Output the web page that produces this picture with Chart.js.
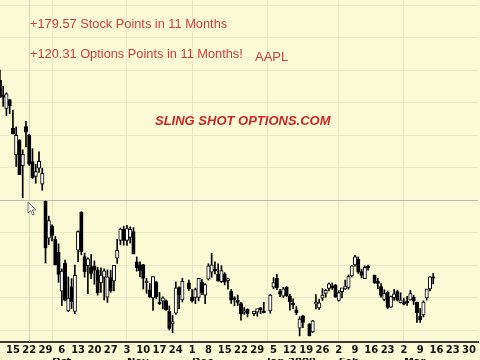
<!DOCTYPE html>
<html><head><meta charset="utf-8">
<script src="https://cdn.jsdelivr.net/npm/chart.js@4.4.0/dist/chart.umd.min.js"></script>
<style>
html,body{margin:0;padding:0;background:#fafad4;overflow:hidden;width:480px;height:360px}
#wrap{position:relative;width:480px;height:366px}
.note{position:absolute;font-family:"Liberation Sans",Arial,sans-serif;font-size:12.8px;line-height:13px;color:#d43c3c;white-space:nowrap}
.logo{font-size:13px;font-weight:bold;font-style:italic;color:#cf2525}
</style></head><body>
<div id="wrap"><canvas id="c"></canvas>
<div class="note" style="left:30px;top:17px">+179.57 Stock Points in 11 Months</div>
<div class="note" style="left:30px;top:47px">+120.31 Options Points in 11 Months!</div>
<div class="note" style="left:255px;top:50px;font-size:13px">AAPL</div>
<div class="note logo" style="left:155px;top:114px">SLING SHOT OPTIONS.COM</div>
</div>
<script>
// ---- data (AAPL daily) ----
const dates = [
 '2008-09-09','2008-09-10','2008-09-11','2008-09-12','2008-09-15','2008-09-16','2008-09-17','2008-09-18','2008-09-19',
 '2008-09-22','2008-09-23','2008-09-24','2008-09-25','2008-09-26','2008-09-29','2008-09-30',
 '2008-10-01','2008-10-02','2008-10-03','2008-10-06','2008-10-07','2008-10-08','2008-10-09','2008-10-10',
 '2008-10-13','2008-10-14','2008-10-15','2008-10-16','2008-10-17','2008-10-20','2008-10-21','2008-10-22','2008-10-23','2008-10-24',
 '2008-10-27','2008-10-28','2008-10-29','2008-10-30','2008-10-31',
 '2008-11-03','2008-11-04','2008-11-05','2008-11-06','2008-11-07','2008-11-10','2008-11-11','2008-11-12','2008-11-13','2008-11-14',
 '2008-11-17','2008-11-18','2008-11-19','2008-11-20','2008-11-21','2008-11-24','2008-11-25','2008-11-26','2008-11-28',
 '2008-12-01','2008-12-02','2008-12-03','2008-12-04','2008-12-05','2008-12-08','2008-12-09','2008-12-10','2008-12-11','2008-12-12',
 '2008-12-15','2008-12-16','2008-12-17','2008-12-18','2008-12-19','2008-12-22','2008-12-23','2008-12-24','2008-12-26',
 '2008-12-29','2008-12-30','2008-12-31','2009-01-02',
 '2009-01-05','2009-01-06','2009-01-07','2009-01-08','2009-01-09','2009-01-12','2009-01-13','2009-01-14','2009-01-15','2009-01-16',
 '2009-01-20','2009-01-21','2009-01-22','2009-01-23','2009-01-26','2009-01-27','2009-01-28','2009-01-29','2009-01-30',
 '2009-02-02','2009-02-03','2009-02-04','2009-02-05','2009-02-06','2009-02-09','2009-02-10','2009-02-11','2009-02-12','2009-02-13',
 '2009-02-17','2009-02-18','2009-02-19','2009-02-20','2009-02-23','2009-02-24','2009-02-25','2009-02-26','2009-02-27',
 '2009-03-02','2009-03-03','2009-03-04','2009-03-05','2009-03-06','2009-03-09','2009-03-10','2009-03-11','2009-03-12','2009-03-13'
];
const opens = [
 156.86,152.32,148.18,150.91,142.03,133.86,138.49,130.57,142.60,
 139.94,131.85,127.27,129.80,124.91,119.62,108.25,
 111.92,108.01,104.00,91.96,100.48,85.91,93.35,85.70,
 104.55,116.26,102.61,99.78,99.48,99.78,98.46,94.50,96.26,90.10,
 96.13,95.07,102.13,107.55,111.00,
 107.60,108.50,110.29,101.00,100.02,100.13,94.55,92.40,89.87,94.76,
 88.56,88.89,88.98,85.84,81.90,85.21,93.04,89.26,94.52,
 90.12,90.02,89.99,94.76,90.72,95.63,97.83,98.27,97.20,94.88,
 97.13,95.29,91.95,89.44,89.13,88.15,85.45,86.38,85.04,
 85.50,86.85,85.89,85.88,
 93.17,95.95,91.81,90.43,93.21,90.46,88.22,86.24,80.58,84.36,
 81.93,79.39,88.03,86.82,89.76,91.26,92.80,93.58,93.89,
 89.10,91.80,92.65,93.11,96.64,100.00,101.80,98.00,95.83,99.25,
 96.87,95.05,93.37,89.40,91.65,87.06,89.97,91.86,88.38,
 88.12,88.67,89.26,90.08,88.50,84.32,84.68,89.84,92.67,96.30
];
const highs = [
 159.96,154.99,152.99,150.91,147.69,142.50,138.51,135.43,144.20,
 140.25,135.80,130.95,134.79,129.80,119.68,115.00,
 112.36,108.79,106.50,98.78,101.50,96.33,95.80,100.00,
 110.53,116.40,103.66,102.24,103.19,101.28,99.30,99.10,98.80,98.50,
 98.43,99.50,107.90,111.35,111.92,
 112.20,111.75,111.50,102.48,100.98,100.22,95.86,94.33,96.44,95.00,
 91.55,90.22,89.31,87.41,84.53,94.79,93.27,95.94,95.35,
 92.42,92.87,95.76,95.50,94.28,100.38,103.60,100.95,100.35,99.79,
 97.65,95.95,92.51,90.26,90.77,88.55,86.91,86.54,85.85,
 86.05,87.00,88.56,91.04,
 96.18,97.17,92.50,93.15,93.40,90.99,89.62,87.25,84.12,84.48,
 81.94,82.98,90.93,89.50,92.77,92.48,94.50,94.50,94.00,
 92.10,92.74,95.37,96.96,99.88,103.00,102.51,98.73,99.75,100.00,
 96.90,95.85,94.25,92.40,92.00,90.47,92.48,92.24,91.45,
 89.84,90.40,92.20,90.65,88.58,86.61,88.97,92.18,96.44,97.39
];
const lows = [
 151.52,148.80,146.00,146.50,140.36,130.30,127.83,120.68,136.31,
 130.66,126.66,125.15,128.52,123.00,100.59,106.30,
 107.39,100.00,94.65,87.54,88.95,85.68,86.60,85.00,
 101.02,103.14,96.25,91.18,95.83,94.07,90.72,91.60,89.29,88.50,
 91.60,92.00,100.50,106.26,106.11,
 106.00,106.76,103.72,98.09,96.36,92.60,91.29,90.09,86.06,89.63,
 87.84,86.49,86.00,80.00,79.14,84.84,86.53,88.64,92.16,
 88.58,88.10,88.94,90.85,88.10,95.39,96.20,97.28,95.07,94.55,
 93.86,92.58,88.16,87.50,87.55,83.00,84.80,84.00,84.38,
 84.26,85.00,85.26,85.16,
 92.71,92.39,90.26,90.04,90.24,86.07,86.55,84.73,78.20,80.71,
 78.20,79.22,86.52,86.31,89.04,90.08,92.00,92.50,90.06,
 88.86,89.86,92.50,92.60,96.30,99.62,97.42,96.00,95.82,98.40,
 94.25,92.72,90.11,89.00,86.51,86.84,89.11,88.94,88.33,
 87.75,87.59,89.21,87.84,82.33,82.33,84.04,89.21,92.05,94.18
];
const closes = [
 151.68,151.61,152.65,148.94,140.36,139.88,127.83,134.09,140.91,
 131.05,126.84,128.71,131.93,128.24,105.26,113.66,
 109.12,100.10,97.07,98.14,89.16,89.79,88.74,96.80,
 110.26,104.08,97.95,101.89,97.40,98.44,91.49,96.87,98.23,96.38,
 92.09,99.91,104.55,111.04,107.59,
 111.20,110.99,103.30,99.10,98.24,95.88,94.77,90.12,96.44,90.24,
 88.14,89.91,86.29,80.49,82.58,92.95,90.80,95.00,92.67,
 88.93,92.47,95.90,91.41,94.00,99.72,100.06,98.21,95.00,98.27,
 94.75,95.43,89.16,89.43,88.51,85.04,85.81,85.04,85.81,
 86.61,86.29,85.35,90.75,
 94.58,93.02,91.01,92.70,90.58,88.66,87.71,85.33,83.38,82.33,
 78.20,82.83,88.36,88.36,90.73,92.18,94.20,93.00,90.13,
 91.51,92.98,93.55,96.46,99.72,102.51,97.83,96.82,99.27,99.16,
 94.53,94.37,90.64,91.20,86.95,90.25,91.16,89.19,89.31,
 87.94,88.37,91.17,88.84,85.30,83.11,88.63,92.68,96.35,95.93
];
// weekly tick labels (Mondays from 2008-09-15) and month labels
const weekLabels = ['15','22','29','6','13','20','27','3','10','17','24','1','8','15','22','29',
  '5','12','19','26','2','9','16','23','2','9','16','23','30'];
const monthStarts = ['2008-10-01','2008-11-03','2008-12-01','2009-01-01','2009-02-02','2009-03-02'];
const monthLabels = ['Oct','Nov','Dec','Jan 2009','Feb','Mar'];

// ---- helpers: weekday slot index counted from Monday 2008-09-15 ----
const BASE = Date.UTC(2008, 8, 15);
function slotOf(s){
  const [y,m,d] = s.split('-').map(Number);
  const diff = Math.round((Date.UTC(y,m-1,d) - BASE)/86400000);
  const w = Math.floor(diff/7);
  return w*5 + (diff - w*7);
}
const slots = dates.map(slotOf);
const weekTicks = weekLabels.map((_, i) => i*5);
const monthTicks = monthStarts.map(slotOf);

const X_MIN = -3.97, X_MAX = 142.77;
const Y_MIN = 76.31, Y_MAX = 181.54;
const yGrid = [80,90,100,110,120,130,140,150,160,170,180];
const CROSS_DATE = '2008-09-22', CROSS_PRICE = 120;

const GRID = '#e9e9c9';
const tickFont = {family:'"DejaVu Sans", Verdana, sans-serif', size:10, weight:'bold', lineHeight:0.8};

const crosshair = {
  id:'crosshair',
  beforeDatasetsDraw(chart){
    const {ctx, chartArea:a, scales:{x,y}} = chart;
    const cx = Math.round(x.getPixelForValue(slotOf(CROSS_DATE))) + 0.5;
    const cy = Math.round(y.getPixelForValue(CROSS_PRICE)) + 0.5;
    ctx.save();
    ctx.lineWidth = 1;
    ctx.strokeStyle = '#d3d3bf';
    ctx.beginPath(); ctx.moveTo(cx, a.top); ctx.lineTo(cx, a.bottom); ctx.stroke();
    ctx.strokeStyle = '#bdbdac';
    ctx.beginPath(); ctx.moveTo(a.left, cy); ctx.lineTo(a.right, cy); ctx.stroke();
    ctx.restore();
  },
  afterDraw(chart){
    // mouse pointer resting at the crosshair
    const {ctx, scales:{x,y}} = chart;
    const px = Math.round(x.getPixelForValue(slotOf(CROSS_DATE))) - 1;
    const py = Math.round(y.getPixelForValue(CROSS_PRICE)) + 2;
    ctx.save();
    ctx.translate(px, py);
    ctx.beginPath();
    ctx.moveTo(0,0); ctx.lineTo(0,11); ctx.lineTo(2.6,8.6); ctx.lineTo(4.6,13); ctx.lineTo(6.2,12.3);
    ctx.lineTo(4.3,8); ctx.lineTo(7.8,8); ctx.closePath();
    ctx.fillStyle = '#f4f4f0'; ctx.fill();
    ctx.strokeStyle = '#6a6a6a'; ctx.lineWidth = 0.9; ctx.stroke();
    ctx.restore();
  }
};

new Chart(document.getElementById('c'), {
  type:'bar',
  data:{
    datasets:[
      {
        label:'body', order:0, grouped:false,
        data: slots.map((s,i)=>({x:s, y:[opens[i], closes[i]]})),
        backgroundColor: closes.map((c,i)=> c >= opens[i] ? '#ffffff' : '#000000'),
        borderColor:'#000000', borderWidth:1, borderSkipped:false,
        barThickness:3.4, minBarLength:1.5
      },
      {
        label:'wick', order:1, grouped:false,
        data: slots.map((s,i)=>({x:s, y:[lows[i], highs[i]]})),
        backgroundColor:'#000000', borderWidth:0,
        barThickness:1
      }
    ]
  },
  options:{
    responsive:true, maintainAspectRatio:false, animation:false,
    layout:{padding:0},
    plugins:{legend:{display:false}, tooltip:{enabled:false}},
    scales:{
      x:{
        type:'linear', position:'bottom', weight:0, offset:false,
        min:X_MIN, max:X_MAX, bounds:'data',
        afterBuildTicks: ax => { ax.ticks = weekTicks.map(v=>({value:v})); },
        grid:{display:false, drawTicks:false, offset:false},
        border:{display:true, color:'#3a3a3a', width:2},
        ticks:{autoSkip:false, maxRotation:0, padding:4, color:'#111', font:tickFont,
          callback:(v,i)=> weekLabels[i]}
      },
      x2:{
        type:'linear', axis:'x', position:'bottom', weight:1, offset:false,
        min:X_MIN, max:X_MAX, bounds:'data',
        afterBuildTicks: ax => { ax.ticks = monthTicks.map(v=>({value:v})); },
        grid:{display:true, drawTicks:false, color:GRID, lineWidth:1, offset:false},
        border:{display:false},
        ticks:{autoSkip:false, maxRotation:0, padding:0, align:'start', color:'#111', font:tickFont,
          callback:(v,i)=> monthLabels[i]}
      },
      y:{
        type:'linear', position:'left', min:Y_MIN, max:Y_MAX, beginAtZero:false,
        afterBuildTicks: ax => { ax.ticks = yGrid.map(v=>({value:v})); },
        grid:{display:true, drawTicks:false, color:GRID, lineWidth:1},
        border:{display:false},
        ticks:{display:false}
      }
    }
  },
  plugins:[crosshair]
});
</script>
</body></html>
